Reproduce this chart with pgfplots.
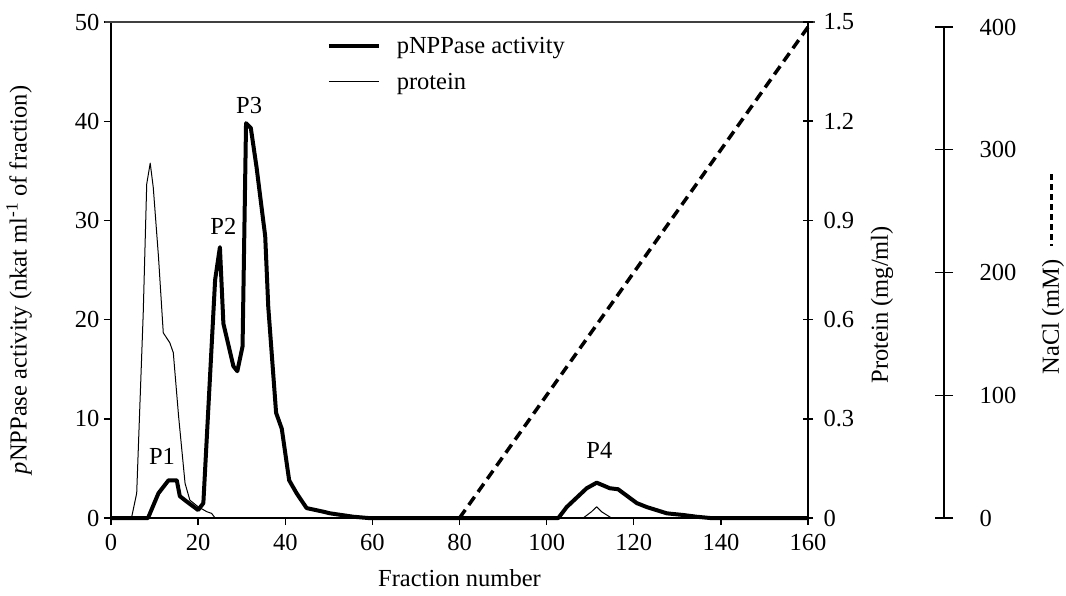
\documentclass[border=0pt]{standalone}
\usepackage{fontspec}
\setmainfont{Liberation Serif}
\usepackage{pgfplots}
\pgfplotsset{compat=1.18}
\newcommand{\chartfont}{\fontsize{24.5}{29}\selectfont}
\begin{document}
\begin{tikzpicture}[font=\chartfont]
\path[use as bounding box] (-111pt,-77pt) rectangle (955pt,518pt);
% ---------------- main axis: pNPPase activity ----------------
\begin{axis}[
  at={(0pt,0pt)}, anchor=south west,
  width=697pt, height=496pt, scale only axis,
  xmin=0, xmax=160, ymin=0, ymax=50,
  axis x line*=bottom, axis y line*=left,
  axis line style={line width=1.6pt, -},
  xtick={0,20,...,160}, ytick={0,10,...,50},
  tick align=outside, major tick length=7pt,
  tick style={line width=1.4pt, black},
  /pgf/number format/assume math mode=true,
  tick label style={font=\chartfont},
  xticklabel style={yshift=-6pt},
  yticklabel style={xshift=-1pt},
  clip=false,
  every axis x label/.style={at={(axis description cs:0.5,0)}, yshift=-60pt, anchor=center},
  every axis y label/.style={at={(axis description cs:0,0.48)}, xshift=-92pt, anchor=center, rotate=90},
  xlabel={Fraction number},
  ylabel={\textit{p}NPPase activity (nkat ml\textsuperscript{-1} of fraction)},
  legend style={draw=none, fill=none, at={(0.305,0.978)}, anchor=north west,
    font=\chartfont, row sep=14pt,
    /tikz/every odd column/.style={column sep=14pt}},
  legend cell align=left,
  legend image code/.code={\draw[#1] (0pt,0pt) -- (50pt,0pt);},
]
\addplot[black, line width=4pt, line join=round] coordinates {
(0,0) (8.5,0) (10.9,2.5) (13.2,3.8) (15.1,3.8) (15.8,2.2) (17.4,1.65) (20.0,0.8)
(21.2,1.5) (23.9,24) (25.0,27.3) (25.8,19.6) (28.1,15.3) (29.0,14.8) (30.2,17.3)
(31.0,39.8) (32.1,39.3) (33.4,35.4) (35.4,28.4) (36.1,21.3) (37.9,10.6) (39.2,9.0)
(40.9,3.8) (42.6,2.5) (44.9,1.0) (48.7,0.64) (50.3,0.47) (55.6,0.13) (59,0)
(102.7,0) (104.6,1.1) (109.2,3.0) (111.5,3.56) (114.5,3.0) (116.4,2.9) (120.7,1.5)
(123.0,1.1) (127.6,0.47) (131.4,0.3) (134.4,0.13) (137.5,0) (160,0)};
\addlegendentry{pNPPase activity}
\addlegendimage{black, line width=1pt}
\addlegendentry{protein}
\draw[line width=1.5pt, black!75] (rel axis cs:-0.008,1) -- (rel axis cs:1.01,1);
\node at (axis cs:11.7,6.2) {P1};
\node at (axis cs:25.8,29.4) {P2};
\node at (axis cs:31.7,41.6) {P3};
\node at (axis cs:112.1,6.85) {P4};
\end{axis}
% ---------------- protein axis ----------------
\begin{axis}[
  at={(0pt,0pt)}, anchor=south west,
  width=697pt, height=496pt, scale only axis,
  xmin=0, xmax=160, ymin=0, ymax=1.5,
  axis x line=none, axis y line*=right,
  axis line style={line width=1.6pt, -},
  ytick={0,0.3,0.6,0.9,1.2,1.5},
  yticklabel style={/pgf/number format/fixed, /pgf/number format/precision=1, xshift=7pt},
  tick align=center, major tick length=10pt,
  tick style={line width=1.4pt, black},
  /pgf/number format/assume math mode=true,
  tick label style={font=\chartfont},
  every axis y label/.style={at={(axis description cs:1,0.43)}, xshift=74pt, anchor=center, rotate=90},
  ylabel={Protein (mg/ml)},
]
\addplot[black, line width=1pt, line join=round] coordinates {
(0,0) (4.7,0) (5.9,0.075) (7.4,0.62) (8.2,1.01) (9.0,1.073) (9.7,1.0) (10.9,0.79)
(12.0,0.56) (13.5,0.53) (14.3,0.5) (15.5,0.31) (17.0,0.105) (18.1,0.054) (20.0,0.034)
(22.0,0.019) (23.1,0.014) (23.9,0) (108.4,0) (110.3,0.019) (111.5,0.034) (112.6,0.019)
(114.9,0) (160,0)};
\end{axis}
% ---------------- NaCl axis ----------------
\begin{axis}[
  at={(0pt,0pt)}, anchor=south west,
  width=833pt, height=491pt, scale only axis,
  xmin=0, xmax=191.22, ymin=0, ymax=400,
  axis x line=none, axis y line*=right,
  axis line style={line width=1.6pt, -},
  ytick={0,100,...,400},
  yticklabel style={xshift=23pt},
  tick align=center, major tick length=18pt,
  tick style={line width=1.4pt, black},
  /pgf/number format/assume math mode=true,
  tick label style={font=\chartfont},
  clip=false,
  every axis y label/.style={at={(axis description cs:1,0.41)}, xshift=109pt, anchor=center, rotate=90},
  ylabel={NaCl (mM)},
]
\addplot[black, line width=3.5pt, dash pattern=on 10pt off 6pt] coordinates {(80,0) (160,400)};
\draw[black, line width=2.5pt, dash pattern=on 6pt off 4pt] (rel axis cs:1.129,0.70) -- (rel axis cs:1.129,0.554);
\end{axis}
\end{tikzpicture}
\end{document}
